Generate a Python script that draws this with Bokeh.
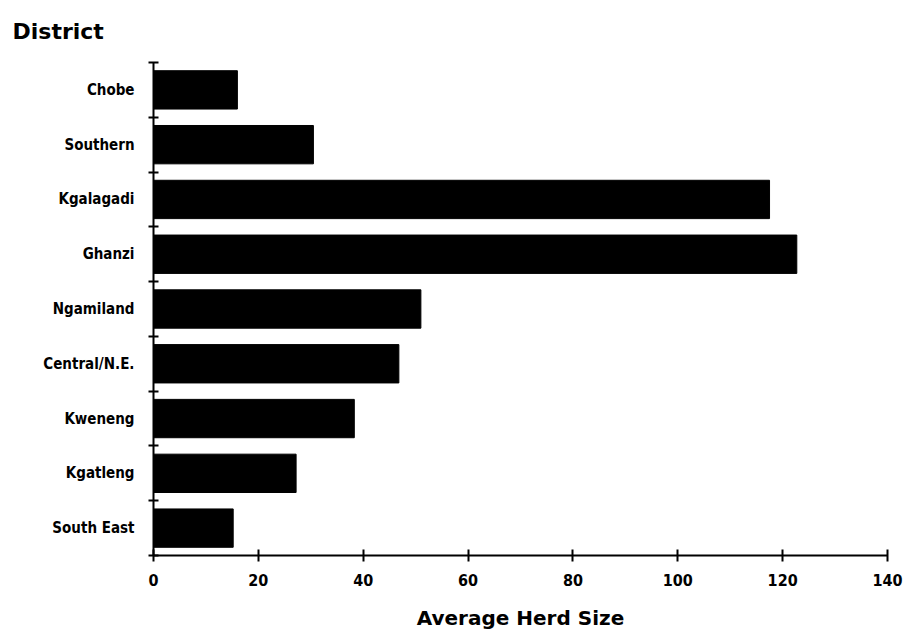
from bokeh.plotting import figure
from bokeh.models import FixedTicker, ColumnDataSource
from bokeh.embed import file_html
from bokeh.resources import INLINE

# Data (top to bottom as in the chart)
districts = ["Chobe", "Southern", "Kgalagadi", "Ghanzi", "Ngamiland",
             "Central/N.E.", "Kweneng", "Kgatleng", "South East"]
herd_size = [16.0, 30.5, 117.5, 122.7, 51.0, 46.8, 38.3, 27.2, 15.2]
x_ticks = [0, 20, 40, 60, 80, 100, 120, 140]

n = len(districts)
# bottom-most category at position 0.5
centers = [n - 1 - i + 0.5 for i in range(n)]
boundaries = list(range(n + 1))

src = ColumnDataSource(dict(y=centers, right=herd_size, name=districts))

p = figure(width=909, height=635, x_range=(0, 140), y_range=(0, n),
           output_backend="svg", toolbar_location=None,
           min_border_left=153, min_border_right=22,
           min_border_top=62, min_border_bottom=80)

p.hbar(y="y", left=0, right="right", height=0.7, source=src,
       fill_color="black", line_color="black")

p.grid.visible = False
p.outline_line_color = None
p.background_fill_color = "white"

# Title
p.title.text = "District"
p.title.text_font = "DejaVu Sans"
p.title.text_font_style = "bold"
p.title.text_font_size = "22px"
p.title.text_color = "black"
p.title.align = "left"
p.title.vertical_align = "top"
p.title.offset = -141
p.title.standoff = 33

# X axis
xa = p.xaxis[0]
xa.ticker = FixedTicker(ticks=x_ticks, minor_ticks=[])
xa.axis_line_width = 2
xa.axis_line_color = "black"
xa.major_tick_in = 6
xa.major_tick_out = 6
xa.major_tick_line_width = 2
xa.minor_tick_in = 0
xa.minor_tick_out = 0
xa.major_label_text_font = "DejaVu Sans Condensed"
xa.major_label_text_font_style = "bold"
xa.major_label_text_font_size = "16px"
xa.major_label_text_color = "black"
xa.major_label_standoff = 12
xa.axis_label = "Average Herd Size"
xa.axis_label_text_font = "DejaVu Sans"
xa.axis_label_text_font_style = "bold"
xa.axis_label_text_font_size = "20px"
xa.axis_label_text_color = "black"
xa.axis_label_standoff = 17

# Y axis
ya = p.yaxis[0]
ya.ticker = FixedTicker(ticks=centers, minor_ticks=boundaries)
ya.major_label_overrides = {c: d for c, d in zip(centers, districts)}
ya.axis_line_width = 2
ya.axis_line_color = "black"
ya.major_tick_in = 0
ya.major_tick_out = 0
ya.minor_tick_in = 5
ya.minor_tick_out = 5
ya.minor_tick_line_width = 2
ya.minor_tick_line_color = "black"
ya.major_label_text_font = "DejaVu Sans Condensed"
ya.major_label_text_font_style = "bold"
ya.major_label_text_font_size = "15px"
ya.major_label_text_color = "black"
ya.major_label_standoff = 14

open("out.html", "w").write(file_html(p, INLINE))
